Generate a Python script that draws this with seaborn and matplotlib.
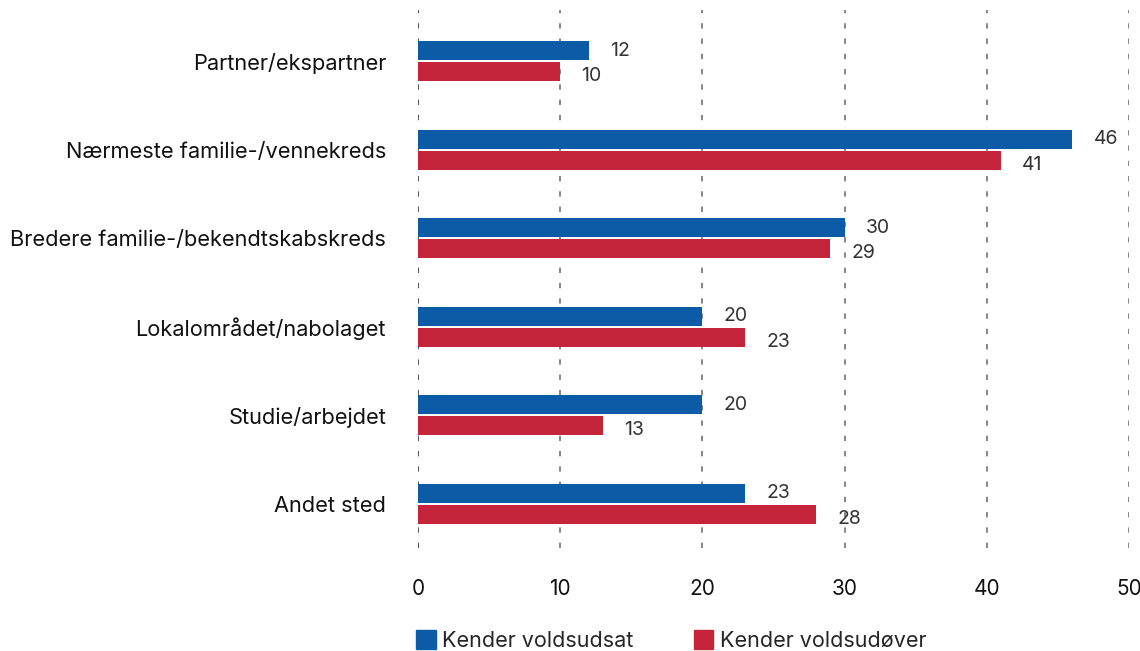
import pandas as pd
import matplotlib.pyplot as plt
import seaborn as sns

categories = ["Partner/ekspartner", "Nærmeste familie-/vennekreds",
              "Bredere familie-/bekendtskabskreds", "Lokalområdet/nabolaget",
              "Studie/arbejdet", "Andet sted"]
voldsudsat = [12, 46, 30, 20, 20, 23]
voldsudover = [10, 41, 29, 23, 13, 28]
series = ["Kender voldsudsat", "Kender voldsudøver"]
colors = ["#0b5ba6", "#c4253b"]

df = pd.DataFrame({
    "kategori": categories * 2,
    "værdi": voldsudsat + voldsudover,
    "serie": [series[0]] * len(categories) + [series[1]] * len(categories),
})

sns.set_style("white")
plt.rcParams["font.family"] = ["Inter", "DejaVu Sans"]

fig = plt.figure(figsize=(11.4, 6.51), dpi=100)
ax = fig.add_axes([418 / 1140, 1 - 548 / 651, (1129 - 418) / 1140, (548 - 10) / 651])

sns.barplot(data=df, y="kategori", x="værdi", hue="serie", orient="h",
            palette=colors, saturation=1, width=0.48, gap=0.1, linewidth=0,
            ax=ax, legend=False)

# value labels just right of each bar
for i, cont in enumerate(ax.containers):
    for bar in cont:
        w = bar.get_width()
        ax.text(w + 1.5, bar.get_y() + bar.get_height() / 2 + (0.05 if i else 0),
                f"{w:.0f}", va="center", ha="left", fontsize=14, color="#333333")

ax.set_xlim(0, 50)
ax.set_ylim(5.5, -0.58)
ax.set_xticks(range(0, 51, 10))
ax.grid(False)
for x in range(0, 51, 10):
    ax.axvline(x, color="#666666" if x else "#222222", lw=1.1,
               ls=(0, (3.5, 6.5)), zorder=0)
for s in ax.spines.values():
    s.set_visible(False)
ax.tick_params(axis="both", length=0, colors="#111111")
ax.tick_params(axis="x", pad=22, labelsize=15)
ax.tick_params(axis="y", pad=23, labelsize=15.7)
ax.set_xlabel("")
ax.set_ylabel("")

handles = [plt.Rectangle((0, 0), 1, 1, color=c) for c in colors]
fig.legend(handles, series, loc="lower left", bbox_to_anchor=(397 / 1140, -0.03),
           ncol=2, frameon=False, fontsize=15.5, handlelength=0.9, handleheight=1.0,
           handletextpad=0.3, columnspacing=2.8)

fig.savefig("out.png", dpi=100)
